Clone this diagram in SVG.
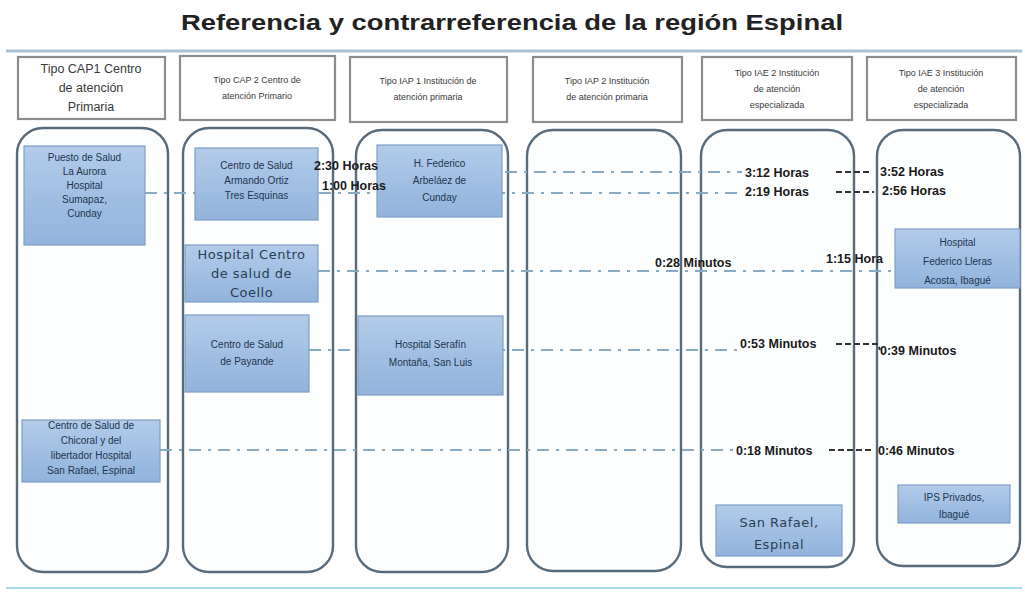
<svg xmlns="http://www.w3.org/2000/svg" width="1025" height="601" viewBox="0 0 1025 601">
<defs>
<linearGradient id="bg" x1="0" y1="0" x2="0" y2="1">
<stop offset="0" stop-color="#b2cbe9"/>
<stop offset="1" stop-color="#92b3dc"/>
</linearGradient>
</defs>
<style>
.lane{fill:#fdfefe;stroke:#576b7b;stroke-width:2.4}
.hdr{fill:#ffffff;stroke:#8c8c8c;stroke-width:2.2}
.box{fill:url(#bg);stroke:#7e9fc6;stroke-width:1.2}
.ht{font-family:"Liberation Sans",Arial,sans-serif;fill:#3a3a3a;text-anchor:middle}
.bt{font-family:"Liberation Sans",Arial,sans-serif;font-size:10px;fill:#1e3550;text-anchor:middle}
.bt2{font-family:"DejaVu Sans",sans-serif;font-size:13px;fill:#2a3e55;text-anchor:middle;letter-spacing:0.5px}
.lbl{font-family:"Liberation Sans",Arial,sans-serif;font-size:12.5px;font-weight:bold;fill:#1a1a1a}
.dd{fill:none;stroke:#86abc2;stroke-width:2;stroke-dasharray:12 7 3 7}
.sd{fill:none;stroke:#333;stroke-width:2;stroke-dasharray:6 3}
</style>
<rect x="0" y="0" width="1025" height="601" fill="#ffffff"/>
<text x="512" y="30" font-family="Liberation Sans,Arial,sans-serif" font-size="22" font-weight="bold" fill="#222" text-anchor="middle" textLength="662" lengthAdjust="spacingAndGlyphs">Referencia y contrarreferencia de la región Espinal</text>
<line x1="6" y1="51" x2="1022" y2="51" stroke="#a9c3d4" stroke-width="3"/>
<line x1="6" y1="588" x2="1022" y2="588" stroke="#a6dcee" stroke-width="2"/>

<g id="headers">
<g id="h1"><rect class="hdr" x="18" y="57" width="147" height="62"/>
<text class="ht" font-size="12.5"><tspan x="91" y="73">Tipo CAP1  Centro</tspan><tspan x="91" y="92">de atención</tspan><tspan x="91" y="111">Primaria</tspan></text></g>
<g id="h2"><rect class="hdr" x="180" y="56" width="155" height="64"/>
<text class="ht" font-size="9"><tspan x="257" y="83">Tipo CAP 2 Centro de</tspan><tspan x="257" y="99">atención Primario</tspan></text></g>
<g id="h3"><rect class="hdr" x="350" y="57" width="157" height="65"/>
<text class="ht" font-size="9"><tspan x="428" y="84">Tipo IAP   1 Institución de</tspan><tspan x="428" y="100">atención primaria</tspan></text></g>
<g id="h4"><rect class="hdr" x="533" y="57" width="149" height="65"/>
<text class="ht" font-size="9"><tspan x="607" y="84">Tipo IAP   2 Institución</tspan><tspan x="607" y="100">de atención primaria</tspan></text></g>
<g id="h5"><rect class="hdr" x="702" y="57" width="150" height="63"/>
<text class="ht" font-size="9"><tspan x="777" y="76">Tipo IAE 2 Institución</tspan><tspan x="777" y="92">de atención</tspan><tspan x="777" y="108">especializada</tspan></text></g>
<g id="h6"><rect class="hdr" x="867" y="57" width="149" height="63"/>
<text class="ht" font-size="9"><tspan x="941" y="76">Tipo IAE 3 Institución</tspan><tspan x="941" y="92">de atención</tspan><tspan x="941" y="108">especializada</tspan></text></g>
</g>

<g id="lanes">
<rect id="lane1" class="lane" x="17" y="128" width="151" height="444" rx="26"/>
<rect id="lane2" class="lane" x="183" y="128" width="150" height="444" rx="26"/>
<rect id="lane3" class="lane" x="356" y="130" width="152" height="442" rx="26"/>
<rect id="lane4" class="lane" x="527" y="130" width="154" height="441" rx="26"/>
<rect id="lane5" class="lane" x="701" y="130" width="153" height="437" rx="26"/>
<rect id="lane6" class="lane" x="877" y="130" width="143" height="436" rx="26"/>
</g>

<g id="connectors">
<path class="dd" d="M505 172 H742"/>
<path class="dd" d="M145 193 H742"/>
<path class="dd" d="M318 271 H893"/>
<path class="dd" d="M309 350 H740"/>
<path class="dd" d="M160 450 H735"/>
<path class="sd" d="M836 172 H870"/>
<path class="sd" d="M836 192 H874"/>
<path class="sd" d="M836 344 L878 344 L880 350"/>
<path class="sd" d="M829 450 H872"/>
</g>

<g id="n-aurora"><rect class="box" x="24" y="146" width="121" height="99"/>
<text class="bt"><tspan x="84.5" y="161">Puesto de Salud</tspan><tspan x="84.5" y="175">La Aurora</tspan><tspan x="84.5" y="189">Hospital</tspan><tspan x="84.5" y="203">Sumapaz,</tspan><tspan x="84.5" y="217">Cunday</tspan></text></g>
<g id="n-ortiz"><rect class="box" x="195" y="148" width="123" height="72"/>
<text class="bt"><tspan x="256.5" y="169">Centro de Salud</tspan><tspan x="256.5" y="184">Armando Ortiz</tspan><tspan x="256.5" y="199">Tres Esquinas</tspan></text></g>
<g id="n-coello"><rect class="box" x="185" y="245" width="133" height="57"/>
<text class="bt2"><tspan x="251.5" y="259">Hospital Centro</tspan><tspan x="251.5" y="278">de salud de</tspan><tspan x="251.5" y="297">Coello</tspan></text></g>
<g id="n-payande"><rect class="box" x="185" y="315" width="124" height="77"/>
<text class="bt"><tspan x="247" y="348">Centro de Salud</tspan><tspan x="247" y="365">de Payande</tspan></text></g>
<g id="n-chicoral"><rect class="box" x="22" y="420" width="138" height="62"/>
<text class="bt"><tspan x="91" y="429">Centro de Salud de</tspan><tspan x="91" y="444">Chicoral  y del</tspan><tspan x="91" y="459">libertador Hospital</tspan><tspan x="91" y="474">San Rafael, Espinal</tspan></text></g>
<g id="n-arbelaez"><rect class="box" x="377" y="145" width="125" height="72"/>
<text class="bt"><tspan x="439.5" y="167">H. Federico</tspan><tspan x="439.5" y="184">Arbeláez de</tspan><tspan x="439.5" y="201">Cunday</tspan></text></g>
<g id="n-serafin"><rect class="box" x="358" y="316" width="145" height="79"/>
<text class="bt"><tspan x="430.5" y="348">Hospital Serafín</tspan><tspan x="430.5" y="366">Montaña, San Luis</tspan></text></g>
<g id="n-lleras"><rect class="box" x="895" y="229" width="125" height="59"/>
<text class="bt" font-size="11.5"><tspan x="957.5" y="246">Hospital</tspan><tspan x="957.5" y="265">Federico Lleras</tspan><tspan x="957.5" y="284">Acosta, Ibagué</tspan></text></g>
<g id="n-sanrafael"><rect class="box" x="716" y="505" width="126" height="51"/>
<text class="bt2"><tspan x="779" y="527">San Rafael,</tspan><tspan x="779" y="549">Espinal</tspan></text></g>
<g id="n-ips"><rect class="box" x="898" y="485" width="112" height="38"/>
<text class="bt" font-size="11"><tspan x="954" y="501">IPS Privados,</tspan><tspan x="954" y="518">Ibagué</tspan></text></g>

<g id="labels">
<text class="lbl" x="314" y="170">2:30 Horas</text>
<text class="lbl" x="322" y="190">1:00 Horas</text>
<text class="lbl" x="745" y="177" font-weight="normal" fill="#333">3:12 Horas</text>
<text class="lbl" x="745" y="196" font-weight="normal" fill="#333">2:19 Horas</text>
<text class="lbl" x="880" y="176">3:52 Horas</text>
<text class="lbl" x="882" y="195">2:56 Horas</text>
<text class="lbl" x="655" y="267">0:28 Minutos</text>
<text class="lbl" x="826" y="263">1:15 Hora</text>
<text class="lbl" x="740" y="348">0:53 Minutos</text>
<text class="lbl" x="880" y="355">0:39 Minutos</text>
<text class="lbl" x="736" y="455" fill="#666">0:18 Minutos</text>
<text class="lbl" x="878" y="455">0:46 Minutos</text>
</g>
</svg>
